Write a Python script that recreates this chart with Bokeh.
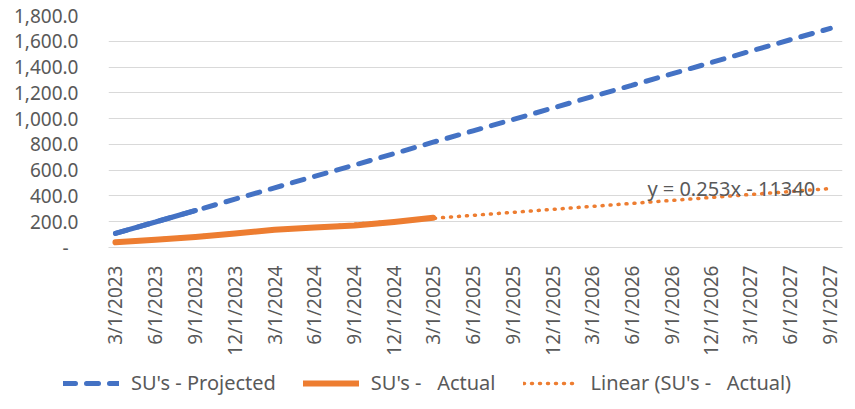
import math
import pandas as pd
from bokeh.plotting import figure
from bokeh.models import Range1d, FixedTicker, Legend, LegendItem, Label
from bokeh.embed import file_html
from bokeh.resources import INLINE

# ---- data ----
dates = ["3/1/2023", "6/1/2023", "9/1/2023", "12/1/2023",
         "3/1/2024", "6/1/2024", "9/1/2024", "12/1/2024",
         "3/1/2025", "6/1/2025", "9/1/2025", "12/1/2025",
         "3/1/2026", "6/1/2026", "9/1/2026", "12/1/2026",
         "3/1/2027", "6/1/2027", "9/1/2027"]
projected = [110, 198, 287, 375, 463, 552, 640, 728, 817, 905,
             993, 1082, 1170, 1258, 1347, 1435, 1523, 1612, 1700]
actual = [40, 60, 82, 108, 138, 155, 170, 198, 230]
trend_slope = 0.253
trend_intercept = -11340
trend_text = "y = 0.253x - 11340"
y_ticks = [0, 200, 400, 600, 800, 1000, 1200, 1400, 1600, 1800]
y_labels = ["-\u00a0\u00a0", "200.0", "400.0", "600.0", "800.0", "1,000.0",
            "1,200.0", "1,400.0", "1,600.0", "1,800.0"]
legend_labels = ["SU's - Projected", "SU's -\u00a0\u00a0 Actual",
                 "Linear (SU's -\u00a0\u00a0 Actual)"]

# Excel serial day numbers
base = pd.Timestamp("1899-12-30")
serials = [float((pd.to_datetime(d, format="%m/%d/%Y") - base).days) for d in dates]
act_x = serials[:len(actual)]
trend_y = [trend_slope * s + trend_intercept for s in serials]

BLUE = "#4472C4"
ORANGE = "#ED7D31"
GRID = "#D9D9D9"
TXT = "#595959"
FONT = "Noto Sans"

PROJ_STYLE = dict(line_color=BLUE, line_width=5, line_dash="12 11", line_cap="round")
ACT_STYLE = dict(line_color=ORANGE, line_width=6, line_cap="round", line_join="round")
TREND_STYLE = dict(line_color=ORANGE, line_width=3.5, line_dash="1 7", line_cap="round")

p = figure(width=855, height=360, output_backend="svg", toolbar_location=None,
           x_range=Range1d(serials[0] - 16, serials[-1] + 28),
           y_range=Range1d(0, 1800),
           min_border_left=108, min_border_right=13, min_border_top=15,
           min_border_bottom=113)
p.outline_line_color = None
p.background_fill_color = "white"
p.border_fill_color = "white"

p.xgrid.visible = False
p.ygrid.ticker = FixedTicker(ticks=y_ticks)
p.ygrid.grid_line_color = GRID
p.ygrid.grid_line_width = 1

xa = p.xaxis[0]
xa.ticker = FixedTicker(ticks=serials)
xa.major_label_overrides = {s: d for s, d in zip(serials, dates)}
xa.major_label_orientation = math.pi / 2
xa.axis_line_color = GRID
xa.major_tick_line_color = None
xa.minor_tick_line_color = None
xa.major_label_standoff = 12
xa.major_label_text_font = FONT
xa.major_label_text_font_size = "19px"
xa.major_label_text_color = TXT

ya = p.yaxis[0]
ya.ticker = FixedTicker(ticks=y_ticks)
ya.major_label_overrides = {t: l for t, l in zip(y_ticks, y_labels)}
ya.axis_line_color = None
ya.major_tick_line_color = None
ya.minor_tick_line_color = None
ya.major_label_standoff = 24
ya.major_label_text_font = FONT
ya.major_label_text_font_size = "19px"
ya.major_label_text_color = TXT

# trendline (under the actual line)
p.line(serials, trend_y, **TREND_STYLE)
# projected
p.line(serials[:3], projected[:3], line_color=BLUE, line_width=5, line_cap="round")
p.line(serials, projected, **PROJ_STYLE)
# actual
p.line(act_x, actual, **ACT_STYLE)

lbl = Label(x=46210, y=457, text=trend_text, text_font=FONT, text_font_size="20px",
            text_color=TXT, text_baseline="middle", text_align="left")
p.add_layout(lbl)

# ---- legend strip (separate root; its data lies outside its ranges) ----
lg = figure(width=855, height=49, output_backend="svg", toolbar_location=None,
            x_range=Range1d(0, 1), y_range=Range1d(0, 1),
            x_axis_location=None, y_axis_location=None,
            min_border=0, min_border_left=0, min_border_right=0,
            min_border_top=0, min_border_bottom=0)
lg.outline_line_color = None
lg.xgrid.visible = False
lg.ygrid.visible = False
lr_proj = lg.line(serials, projected, **PROJ_STYLE)
lr_act = lg.line(act_x, actual, **ACT_STYLE)
lr_trend = lg.line(serials, trend_y, **TREND_STYLE)

legend = Legend(items=[LegendItem(label=legend_labels[0], renderers=[lr_proj]),
                       LegendItem(label=legend_labels[1], renderers=[lr_act]),
                       LegendItem(label=legend_labels[2], renderers=[lr_trend])],
                orientation="horizontal", location=(63, 13),
                glyph_width=56, glyph_height=20, label_standoff=12, spacing=27,
                padding=0, margin=0, border_line_color=None,
                background_fill_alpha=0,
                label_text_font=FONT, label_text_font_size="20px",
                label_text_color=TXT)
lg.add_layout(legend)

open("out.html", "w").write(file_html([p, lg], INLINE))
